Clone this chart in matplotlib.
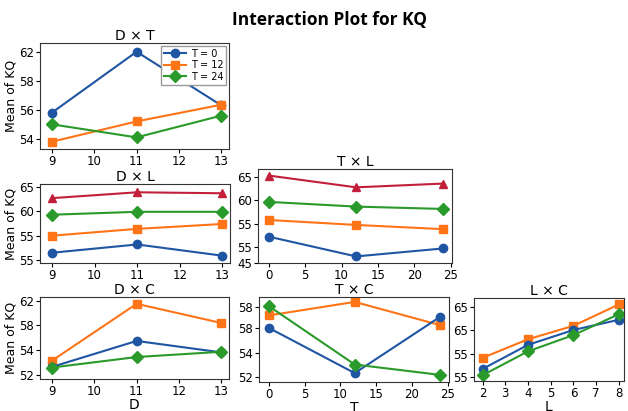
import matplotlib
matplotlib.use("Agg")
import matplotlib.pyplot as plt

plt.rcParams['font.family'] = 'DejaVu Sans'

# colours / markers per level
blue = '#1f55a3'
orange = '#ff7417'
green = '#2a9a2a'
red = '#c21f3a'

# ---- data ----
D = [9, 11, 13]
T = [0, 12, 24]
L = [2, 4, 6, 8]

# D x T  (series by T)
dt_t0 = [55.8, 60.0, 56.3]
dt_t12 = [53.8, 55.2, 56.35]
dt_t24 = [55.0, 54.1, 55.6]
dt_yticks = [54, 56, 58, 60]
dt_ylabels = ['54', '56', '58', '62']

# D x L
dl_blue = [51.5, 53.2, 50.9]
dl_orange = [55.0, 56.4, 57.4]
dl_green = [59.3, 59.9, 59.9]
dl_red = [62.7, 63.9, 63.7]
dl_yticks = [50, 55, 60, 65]
dl_ylabels = ['55', '55', '60', '65']

# T x L
tl_blue = [52.3, 48.1, 49.8]
tl_orange = [55.85, 54.8, 53.9]
tl_green = [59.7, 58.7, 58.2]
tl_red = [65.3, 62.8, 63.6]
tl_yticks = [46.8, 50, 55, 60, 65]
tl_ylabels = ['45', '55', '55', '60', '65']

# D x C
dc_blue = [51.3, 55.5, 53.65]
dc_orange = [52.3, 61.5, 58.4]
dc_green = [51.2, 52.9, 53.75]
dc_yticks = [50, 54, 58, 62]
dc_ylabels = ['52', '54', '58', '62']

# T x C
tc_blue = [60.05, 52.7, 61.9]
tc_orange = [62.1, 64.3, 60.5]
tc_green = [63.6, 54.1, 52.4]
tc_yticks = [52, 56, 60, 63.5]
tc_ylabels = ['52', '54', '58', '58']

# L x C
lc_blue = [56.7, 61.9, 65.1, 67.3]
lc_orange = [59.1, 63.1, 66.0, 70.6]
lc_green = [55.35, 60.5, 64.0, 68.5]
lc_yticks = [55, 60, 65, 70]
lc_ylabels = ['55', '55', '65', '65']

W, H = 628, 411
fig = plt.figure(figsize=(W / 100, H / 100), dpi=100)


def make_ax(l, t, r, b):
    return fig.add_axes([l / W, 1 - b / H, (r - l) / W, (b - t) / H])


def style(ax, title, yticks, ylabels, ylim, xlim, xticks):
    ax.set_title(title, fontsize=10, pad=1.5)
    ax.set_yticks(yticks)
    ax.set_yticklabels(ylabels)
    ax.set_ylim(*ylim)
    ax.set_xlim(*xlim)
    ax.set_xticks(xticks)
    ax.tick_params(labelsize=8.5, length=3, pad=1.5)
    for s in ax.spines.values():
        s.set_color('#333333')
        s.set_linewidth(0.8)


kw = dict(lw=1.5, ms=6)

# D x T
ax = make_ax(40, 43, 229, 149)
ax.plot(D, dt_t0, color=blue, marker='o', label='T = 0', **kw)
ax.plot(D, dt_t12, color=orange, marker='s', label='T = 12', **kw)
ax.plot(D, dt_t24, color=green, marker='D', label='T = 24', **kw)
style(ax, 'D × T', dt_yticks, dt_ylabels, (53.3, 60.6), (8.72, 13.18), [9, 10, 11, 12, 13])
ax.set_ylabel('Mean of KQ', fontsize=9, labelpad=1)
ax.legend(loc='upper right', fontsize=7, handlelength=2.2, borderpad=0.3,
          labelspacing=0.15, handletextpad=0.5, borderaxespad=0.3,
          fancybox=False, framealpha=1, edgecolor='#999999')

# D x L
ax = make_ax(40, 184, 230, 263)
ax.plot(D, dl_red, color=red, marker='^', **kw)
ax.plot(D, dl_green, color=green, marker='D', **kw)
ax.plot(D, dl_orange, color=orange, marker='s', **kw)
ax.plot(D, dl_blue, color=blue, marker='o', **kw)
style(ax, 'D × L', dl_yticks, dl_ylabels, (49.4, 65.6), (8.72, 13.18), [9, 10, 11, 12, 13])
ax.set_ylabel('Mean of KQ', fontsize=9, labelpad=1)

# T x L
ax = make_ax(258, 169, 452, 263)
ax.plot(T, tl_red, color=red, marker='^', **kw)
ax.plot(T, tl_green, color=green, marker='D', **kw)
ax.plot(T, tl_orange, color=orange, marker='s', **kw)
ax.plot(T, tl_blue, color=blue, marker='o', **kw)
style(ax, 'T × L', tl_yticks, tl_ylabels, (46.7, 66.7), (-1.5, 25.2), [0, 5, 10, 15, 20, 25])

# D x C
ax = make_ax(40, 297, 229, 379)
ax.plot(D, dc_orange, color=orange, marker='s', **kw)
ax.plot(D, dc_blue, color=blue, marker='o', **kw)
ax.plot(D, dc_green, color=green, marker='D', **kw)
style(ax, 'D × C', dc_yticks, dc_ylabels, (49.35, 62.6), (8.72, 13.18), [9, 10, 11, 12, 13])
ax.set_ylabel('Mean of KQ', fontsize=9, labelpad=1)
ax.set_xlabel('D', fontsize=10, labelpad=0)

# T x C
ax = make_ax(259, 297, 449, 382)
ax.plot(T, tc_orange, color=orange, marker='s', **kw)
ax.plot(T, tc_blue, color=blue, marker='o', **kw)
ax.plot(T, tc_green, color=green, marker='D', **kw)
style(ax, 'T × C', tc_yticks, tc_ylabels, (51.25, 65.1), (-1.4, 25.2), [0, 5, 10, 15, 20, 25])
ax.set_xlabel('T', fontsize=10, labelpad=0)

# L x C
ax = make_ax(474, 298, 624, 381)
ax.plot(L, lc_orange, color=orange, marker='s', **kw)
ax.plot(L, lc_blue, color=blue, marker='o', **kw)
ax.plot(L, lc_green, color=green, marker='D', **kw)
style(ax, 'L × C', lc_yticks, lc_ylabels, (54.1, 72.0), (1.62, 8.23), [2, 3, 4, 5, 6, 7, 8])
ax.set_xlabel('L', fontsize=10, labelpad=0)

fig.text(330 / W, 1 - 20 / H, 'Interaction Plot for KQ', ha='center', va='center',
         fontsize=12.5, fontweight='bold', family='Open Sans')

fig.savefig('out.png', dpi=100)
